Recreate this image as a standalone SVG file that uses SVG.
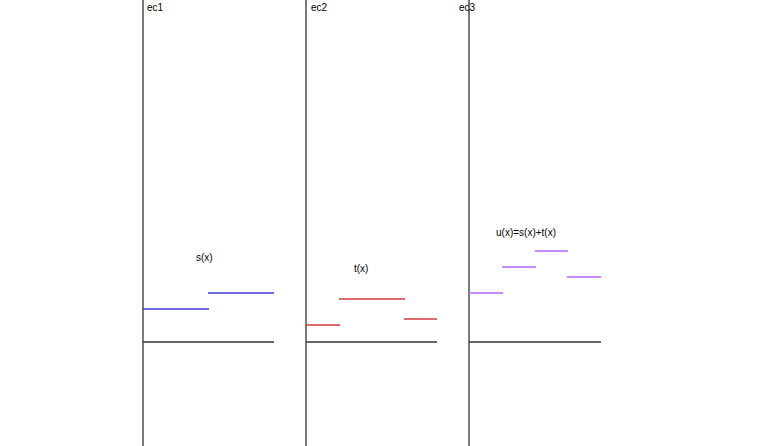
<svg xmlns="http://www.w3.org/2000/svg" width="768" height="446" viewBox="0 0 768 446">
<style>
text{font-family:"Liberation Sans",Arial,sans-serif;font-size:10px;fill:#000}
.ax{stroke:#333;stroke-width:1.3;fill:none}
.b{stroke:#3b3bdd;stroke-width:1.5}
.r{stroke:#d23c3c;stroke-width:1.5}
.p{stroke:#b266ff;stroke-width:1.5}
</style>
<rect width="768" height="446" fill="#fff"/>
<g id="ec1">
<line class="ax" x1="143" y1="0" x2="143" y2="446"/>
<line class="ax" x1="143" y1="342" x2="274" y2="342"/>
<text x="147" y="11">ec1</text>
<line class="b" x1="143" y1="309" x2="209" y2="309"/>
<line class="b" x1="208" y1="293" x2="274" y2="293"/>
<text x="196" y="261">s(x)</text>
</g>
<g id="ec2">
<line class="ax" x1="306" y1="0" x2="306" y2="446"/>
<line class="ax" x1="306" y1="342" x2="437" y2="342"/>
<text x="311" y="11">ec2</text>
<line class="r" x1="306" y1="325" x2="340" y2="325"/>
<line class="r" x1="339" y1="299" x2="405" y2="299"/>
<line class="r" x1="404" y1="319" x2="437" y2="319"/>
<text x="354" y="272">t(x)</text>
</g>
<g id="ec3">
<line class="ax" x1="469" y1="0" x2="469" y2="446"/>
<line class="ax" x1="469" y1="342" x2="601" y2="342"/>
<text x="459" y="11">ec3</text>
<line class="p" x1="469" y1="293" x2="503" y2="293"/>
<line class="p" x1="502" y1="267" x2="536" y2="267"/>
<line class="p" x1="535" y1="251" x2="568" y2="251"/>
<line class="p" x1="567" y1="277" x2="601" y2="277"/>
<text x="496" y="236">u(x)=s(x)+t(x)</text>
</g>
<g id="connectors"></g>
</svg>
